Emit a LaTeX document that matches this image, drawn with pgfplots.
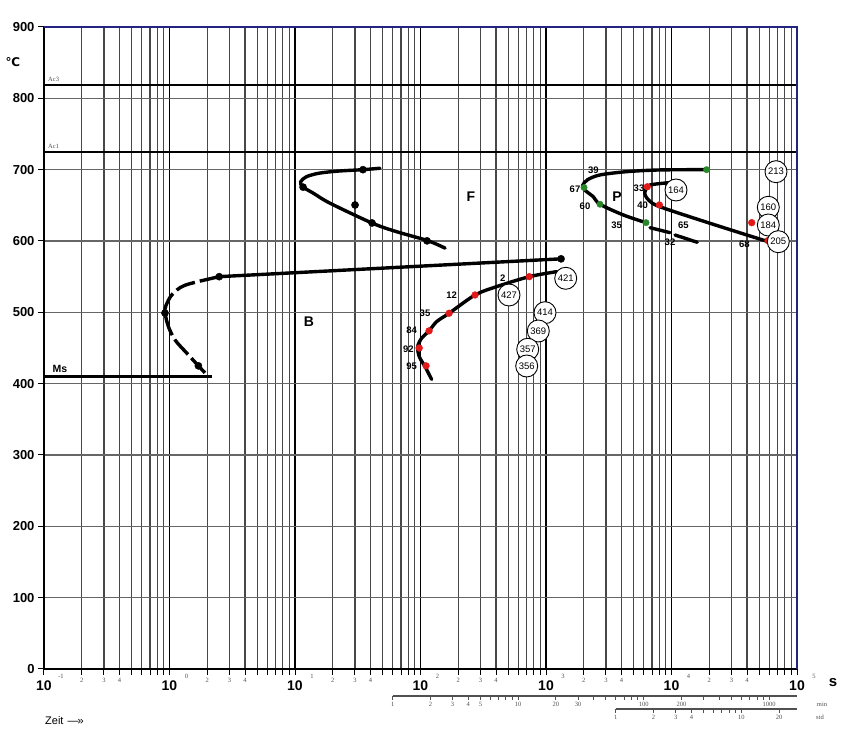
\documentclass[border=0pt]{standalone}
\usepackage{pgfplots}
\pgfplotsset{compat=1.18}
\usepackage{fontspec}
\setmainfont{Liberation Sans}
\newfontfamily\seriffont{Liberation Serif}
\newfontfamily\dejavu{DejaVu Sans}
\definecolor{navy}{RGB}{35,35,130}
\definecolor{dotred}{RGB}{225,25,25}
\definecolor{dotgreen}{RGB}{40,135,40}
\definecolor{scalegray}{RGB}{80,80,80}
\begin{document}
\begin{tikzpicture}[x=1pt,y=1pt]
\path[use as bounding box] (0,0) rectangle (849,752);
\begin{axis}[
  at={(44pt,83pt)}, anchor=south west,
  scale only axis, width=753pt, height=642pt,
  xmode=log, xmin=0.1, xmax=100000, ymin=0, ymax=900,
  clip=false,
  axis line style={draw=none},
  xtick={0.1,1,10,100,1000,10000,100000},
  xticklabels={10,10,10,10,10,10,10},
  minor xtick={0.2,0.3,0.4,0.5,0.6,0.7,0.8,0.9,2,3,4,5,6,7,8,9,20,30,40,50,60,70,80,90,200,300,400,500,600,700,800,900,2000,3000,4000,5000,6000,7000,8000,9000,20000,30000,40000,50000,60000,70000,80000,90000},
  ytick={0,100,...,900},
  xtick pos=bottom, ytick pos=left,
  tick align=outside,
  major tick length=6pt, minor tick length=6pt,
  tick style={black, line width=1pt},
  xmajorgrids, xminorgrids, ymajorgrids,
  major x grid style={black, line width=1.4pt},
  minor x grid style={black!72, line width=1.25pt},
  major y grid style={black!60, line width=1.2pt},
  xticklabel style={font=\bfseries\fontsize{14}{14}\selectfont, anchor=north, yshift=-2pt},
  yticklabel style={font=\bfseries\fontsize{13}{13}\selectfont},
  /pgf/number format/assume math mode=true,
]
% Ac3, Ac1, Ms
\addplot[black, line width=2.2pt] coordinates {(0.1,819) (100000,819)};
\addplot[black, line width=2.2pt] coordinates {(0.1,725) (100000,725)};
\addplot[black, line width=3.4pt] coordinates {(0.1,410) (2.17,410)};
% Ferrite curve
\addplot[black, line width=3.4pt, smooth, line cap=round] coordinates {(47.5,702) (35,700) (22,698) (15.5,695) (12.3,690) (11.1,683) (11.5,676) (14,667) (19,653) (41.3,625) (64.6,613) (114,600.5) (157,590)};
% Bainite start line
\addplot[black, line width=3.4pt, line cap=round] coordinates {(1318,575) (2.49,550)};
\addplot[black, line width=3.4pt, smooth, dash pattern=on 20pt off 5pt] coordinates {(2.49,550) (1.33,538) (1.05,525) (0.94,510) (0.92,500) (0.98,480) (1.11,461) (1.37,443) (1.70,425) (1.92,415)};
% Bainite right curve
\addplot[black, line width=3.4pt, smooth, line cap=round] coordinates {(1216,557) (736,550) (404,536) (272,524.3) (169,498.7) (134.6,487) (117,474) (102,463.6) (95,452) (97.7,438) (108.6,424) (122.7,406)};
% Pearlite outer
\addplot[black, line width=3.4pt, smooth, line cap=round] coordinates {(19050,700) (8091,699.6) (4395,697.2) (2692,692.6) (2150,686) (1960,678) (2050,671) (2383,662) (2692,651.5) (4130,636.5) (6266,625.7)};
\addplot[black, line width=3.4pt, line cap=round] coordinates {(6747,618.7) (9727,611.7)};
\addplot[black, line width=3.4pt, line cap=round] coordinates {(10667,608.4) (16040,598.2)};
% Pearlite inner
\addplot[black, line width=3.4pt, smooth, line cap=round] coordinates {(9730,681.8) (6747,678.5) (6200,671) (6151,665) (6600,657) (8091,648) (20280,624.8) (59000,599)};
% dots
\addplot[only marks, mark=*, mark size=3.6pt, black] coordinates {(34.8,700) (11.6,675.5) (30.1,650.5) (41.1,625.3) (112.7,600.2) (1318,575) (2.49,550) (0.92,499) (1.70,425)};
\addplot[only marks, mark=*, mark size=3.4pt, dotred, mark options={draw=dotred}] coordinates {(736,550) (272,524.3) (169,498.7) (117,474) (97.7,450) (110.7,425) (6412,676) (8002,650.5) (43560,625.7) (58740,600.5)};
\addplot[only marks, mark=*, mark size=3.2pt, dotgreen, mark options={draw=dotgreen}] coordinates {(19050,700) (2009,675) (2692,651.5) (6266,625.7)};
% borders
\draw[black, line width=1.3pt] (rel axis cs:0,0) -- (rel axis cs:1,0);
\draw[black, line width=1.2pt] (rel axis cs:0,0) -- (rel axis cs:0,1);
\draw[navy, line width=1.8pt] (rel axis cs:0,1) -- (rel axis cs:1,1) -- (rel axis cs:1,0);
\end{axis}
% exponents and minor labels of the x axis
\begin{scope}[every node/.style={font=\seriffont\fontsize{6.5}{7}\selectfont, text=scalegray, inner sep=0}]
\foreach \d/\e in {0/-1,1/0,2/1,3/2,4/3,5/4,6/5} \node at ({44+125.5*\d+17},76) {\e};
\foreach \d in {0,...,5} {\foreach \k in {2,3,4} {\node at ({44+125.5*(\d+log10(\k))},72) {\k};}}
% min scale
\draw[scalegray, line width=1.2pt] (392.6,56) -- (797,56);
\foreach \m in {1,...,10,20,30,...,100,200,300,...,1000} {\draw[scalegray, line width=1pt] ({44+125.5*(log10(\m)+2.77815)},56) -- ++(0,-4);}
\foreach \m in {1,2,3,4,5,10,20,30,100,200,1000} {\node at ({44+125.5*(log10(\m)+2.77815)},48) {\m};}
\node at (822,48) {min};
% std scale
\draw[scalegray, line width=1.2pt] (615.8,43) -- (797,43);
\foreach \h in {1,...,10,20} {\draw[scalegray, line width=1pt] ({44+125.5*(log10(\h)+4.5563)},43) -- ++(0,-4);}
\foreach \h in {1,2,3,4,10,20} {\node at ({44+125.5*(log10(\h)+4.5563)},35) {\h};}
\node at (820,35) {std};
\node[anchor=west] at (48,752-79) {Ac3};
\node[anchor=west] at (48,752-146) {Ac1};
\end{scope}
% outer texts
\node[font=\dejavu\bfseries\fontsize{12}{12}\selectfont, inner sep=0] at (13,752-62) {℃};
\node[font=\bfseries\fontsize{15}{15}\selectfont, inner sep=0] at (833,752-683) {s};
\node[font=\fontsize{11}{11}\selectfont, inner sep=0, anchor=west] at (45,752-721) {Zeit\hspace{4pt}—\kern-1pt»};
% region labels
\begin{scope}[every node/.style={font=\bfseries\fontsize{14}{14}\selectfont, inner sep=0}]
\node at (471,752-197) {F};
\node at (309,752-322) {B};
\node at (617,752-197) {P};
\end{scope}
\node[font=\bfseries\fontsize{10.5}{11}\selectfont, inner sep=0] at (60,752-369) {Ms};
% percentages
\begin{scope}[every node/.style={font=\bfseries\fontsize{9.5}{10}\selectfont, inner sep=0}]
\node at (593.3,752-170) {39};
\node at (575,752-189.3) {67};
\node at (585,752-206.7) {60};
\node at (616.7,752-225) {35};
\node at (670,752-242.7) {32};
\node at (639,752-188.3) {33};
\node at (642.7,752-205) {40};
\node at (683.3,752-225) {65};
\node at (744.3,752-244) {68};
\node at (502.7,752-278.3) {2};
\node at (451.7,752-295) {12};
\node at (425,752-313.3) {35};
\node at (411.7,752-330.7) {84};
\node at (408.3,752-349.3) {92};
\node at (411.7,752-366.7) {95};
\end{scope}
% hardness circles
\begin{scope}[every node/.style={draw=black, fill=white, circle, minimum size=22pt, inner sep=0, line width=0.9pt, font=\fontsize{9.5}{10}\selectfont}]
\node at (776,752-171.7) {213};
\node at (676,752-190) {164};
\node at (768.3,752-207.3) {160};
\node at (768.3,752-225) {184};
\node at (778.3,752-241.7) {205};
\node at (565.7,752-278.3) {421};
\node at (509,752-295) {427};
\node at (545,752-312.7) {414};
\node at (538.3,752-331) {369};
\node at (527.7,752-349.3) {357};
\node at (526.7,752-366) {356};
\end{scope}
\end{tikzpicture}
\end{document}
